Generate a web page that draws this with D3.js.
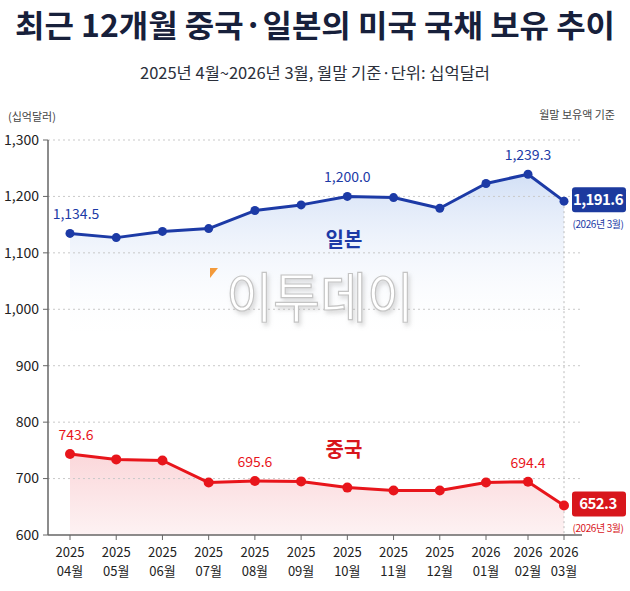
<!DOCTYPE html>
<html>
<head>
<meta charset="utf-8">
<script src="https://cdn.jsdelivr.net/npm/d3@7"></script>
<style>
  body { margin: 0; background: #fff; }
  svg { display: block; font-family: "Noto Sans CJK KR", "Noto Sans", sans-serif; }
</style>
</head>
<body>
<div id="chart"></div>
<script>
// months on the x axis (two-line labels)
const years = ['2025','2025','2025','2025','2025','2025','2025','2025','2025','2026','2026','2026'];
const months = ['04월','05월','06월','07월','08월','09월','10월','11월','12월','01월','02월','03월'];

// holdings, billions of dollars
const japan = [1134.5, 1127, 1138, 1143, 1175, 1185, 1200.0, 1198, 1179, 1223, 1239.3, 1191.6];
const china = [743.6, 734, 732, 693, 695.6, 695, 684, 679, 679, 693, 694.4, 652.3];

const japanLabels = [0, 6, 10];   // indices with value labels
const chinaLabels = [0, 4, 10];

const yTicks = [600, 700, 800, 900, 1000, 1100, 1200, 1300];

const W = 630, H = 591;
const fmt = d3.format(',.1f');

const svg = d3.select('#chart').append('svg')
    .attr('width', W)
    .attr('height', H);

const defs = svg.append('defs');

// the last month sits a little closer in the original, so the x scale is piecewise
const x = d3.scaleLinear()
    .domain([0, 9, 10, 11])
    .range([70, 486, 528, 564]);
const y = d3.scaleLinear()
    .domain([600, 1300])
    .range([535, 140]);

const left = 48, right = 582;

// gradients
const gJ = defs.append('linearGradient')
    .attr('id', 'gJapan').attr('gradientUnits', 'userSpaceOnUse')
    .attr('x1', 0).attr('y1', 175).attr('x2', 0).attr('y2', 345);
gJ.append('stop').attr('offset', 0).attr('stop-color', '#d3e0f6');
gJ.append('stop').attr('offset', 1).attr('stop-color', '#ffffff').attr('stop-opacity', 0);

const gC = defs.append('linearGradient')
    .attr('id', 'gChina').attr('gradientUnits', 'userSpaceOnUse')
    .attr('x1', 0).attr('y1', 450).attr('x2', 0).attr('y2', 535);
gC.append('stop').attr('offset', 0).attr('stop-color', '#fbd6d9');
gC.append('stop').attr('offset', 1).attr('stop-color', '#fdf2f3');

const shadow = defs.append('filter').attr('id', 'wmShadow')
    .attr('x', '-10%').attr('y', '-20%').attr('width', '130%').attr('height', '150%');
shadow.append('feDropShadow')
    .attr('dx', 2).attr('dy', 3).attr('stdDeviation', 2)
    .attr('flood-color', '#999').attr('flood-opacity', 0.35);

// title
svg.append('text')
    .attr('x', W / 2).attr('y', 37)
    .attr('text-anchor', 'middle')
    .attr('textLength', 600).attr('lengthAdjust', 'spacingAndGlyphs')
    .style('font-size', '31px').style('font-weight', 'bold')
    .attr('fill', '#17203b')
    .text('최근 12개월 중국·일본의 미국 국채 보유 추이');

svg.append('text')
    .attr('x', W / 2).attr('y', 79)
    .attr('text-anchor', 'middle')
    .attr('textLength', 350).attr('lengthAdjust', 'spacingAndGlyphs')
    .style('font-size', '16px')
    .attr('fill', '#2b2f3a')
    .text('2025년 4월~2026년 3월, 월말 기준·단위: 십억달러');

svg.append('text')
    .attr('x', 8).attr('y', 121)
    .style('font-size', '11px').attr('fill', '#444')
    .text('(십억달러)');

svg.append('text')
    .attr('x', 615).attr('y', 119)
    .attr('text-anchor', 'end')
    .style('font-size', '11px').attr('fill', '#444')
    .text('월말 보유액 기준');

// areas
const idx = d3.range(japan.length);
svg.append('path')
    .datum(idx)
    .attr('fill', 'url(#gJapan)')
    .attr('d', d3.area().x(i => x(i)).y0(y(960)).y1(i => y(japan[i])));

svg.append('path')
    .datum(idx)
    .attr('fill', 'url(#gChina)')
    .attr('d', d3.area().x(i => x(i)).y0(y(600)).y1(i => y(china[i])));

// grid
svg.append('g')
    .selectAll('line')
    .data(yTicks.slice(1))
    .join('line')
    .attr('x1', left).attr('x2', right)
    .attr('y1', d => y(d)).attr('y2', d => y(d))
    .attr('stroke', '#c9c9c9')
    .attr('stroke-dasharray', '2,3');

// vertical marker at the latest month
svg.append('line')
    .attr('x1', x(11)).attr('x2', x(11))
    .attr('y1', y(japan[11])).attr('y2', y(600))
    .attr('stroke', '#bbb')
    .attr('stroke-dasharray', '2,3');

// watermark
const wm = svg.append('g').attr('transform', 'translate(320,318)');
wm.append('path')
    .attr('d', 'M-110,-50 L-102,-50 L-110,-40 Z')
    .attr('fill', '#f39a3b');
wm.append('text')
    .attr('text-anchor', 'middle')
    .attr('textLength', 188).attr('lengthAdjust', 'spacingAndGlyphs')
    .style('font-size', '54px')
    .attr('fill', '#ffffff')
    .attr('stroke', '#c4c4c4')
    .attr('stroke-width', 1.2)
    .attr('filter', 'url(#wmShadow)')
    .text('이투데이');

// y axis
const yAxis = svg.append('g');
yAxis.append('line')
    .attr('x1', left).attr('x2', left)
    .attr('y1', y(1300)).attr('y2', y(600))
    .attr('stroke', '#666').attr('stroke-width', 1.5);
yAxis.selectAll('.tk')
    .data(yTicks)
    .join('line')
    .attr('x1', left - 5).attr('x2', left)
    .attr('y1', d => y(d)).attr('y2', d => y(d))
    .attr('stroke', '#666');
yAxis.selectAll('text')
    .data(yTicks)
    .join('text')
    .attr('x', 39).attr('y', d => y(d))
    .attr('dy', '0.35em')
    .attr('text-anchor', 'end')
    .style('font-size', '14px')
    .attr('fill', '#222')
    .text(d3.format(','));

// x axis
const xAxis = svg.append('g');
xAxis.append('line')
    .attr('x1', left).attr('x2', right)
    .attr('y1', y(600)).attr('y2', y(600))
    .attr('stroke', '#666').attr('stroke-width', 1.5);
xAxis.selectAll('.tk')
    .data(idx)
    .join('line')
    .attr('x1', i => x(i)).attr('x2', i => x(i))
    .attr('y1', y(600)).attr('y2', y(600) + 5)
    .attr('stroke', '#666');
const xl = xAxis.selectAll('text.xl')
    .data(idx)
    .join('text')
    .attr('class', 'xl')
    .attr('text-anchor', 'middle')
    .style('font-size', '13px')
    .attr('fill', '#222');
xl.append('tspan').attr('x', i => x(i)).attr('y', 557).text(i => years[i]);
xl.append('tspan').attr('x', i => x(i)).attr('y', 576).text(i => months[i]);

// lines + points
function drawSeries(values, color, labels, r) {
    const line = d3.line().x(i => x(i)).y(i => y(values[i]));
    svg.append('path')
        .datum(idx)
        .attr('fill', 'none')
        .attr('stroke', color)
        .attr('stroke-width', 3)
        .attr('stroke-linejoin', 'round')
        .attr('d', line);
    svg.append('g')
        .selectAll('circle')
        .data(idx)
        .join('circle')
        .attr('cx', i => x(i))
        .attr('cy', i => y(values[i]))
        .attr('r', r)
        .attr('fill', color);
    svg.append('g')
        .selectAll('text')
        .data(labels)
        .join('text')
        .attr('x', i => x(i) + (i === 0 ? 6 : 0))
        .attr('y', i => y(values[i]) - 14)
        .attr('text-anchor', 'middle')
        .style('font-size', '14px')
        .attr('fill', color)
        .text(i => fmt(values[i]));
}

drawSeries(japan, '#1c3aa6', japanLabels, 4.5);
drawSeries(china, '#e8151b', chinaLabels, 5);

// series names
svg.append('text')
    .attr('x', 344).attr('y', 247)
    .attr('text-anchor', 'middle')
    .style('font-size', '20px').style('font-weight', 'bold')
    .attr('fill', '#1c3aa6')
    .text('일본');
svg.append('text')
    .attr('x', 344).attr('y', 457)
    .attr('text-anchor', 'middle')
    .style('font-size', '20px').style('font-weight', 'bold')
    .attr('fill', '#d8161c')
    .text('중국');

// callouts for the latest value
function callout(value, color, fill) {
    const cy = y(value);
    const g = svg.append('g');
    g.append('rect')
        .attr('x', 572).attr('y', cy - 14)
        .attr('width', 54).attr('height', 25)
        .attr('rx', 3)
        .attr('fill', fill);
    g.append('text')
        .attr('x', 598).attr('y', cy - 1.5)
        .attr('dy', '0.35em')
        .attr('text-anchor', 'middle')
        .style('font-size', '15px').style('font-weight', 'bold')
        .style('letter-spacing', '-0.6px')
        .attr('fill', '#fff')
        .text(fmt(value));
    g.append('text')
        .attr('x', 598).attr('y', cy + 27)
        .attr('text-anchor', 'middle')
        .style('font-size', '10px')
        .style('letter-spacing', '-0.4px')
        .attr('fill', color)
        .text('(2026년 3월)');
}

callout(japan[11], '#1c3aa6', '#1c3a9e');
callout(china[11], '#d8161c', '#d8161c');
</script>
</body>
</html>
